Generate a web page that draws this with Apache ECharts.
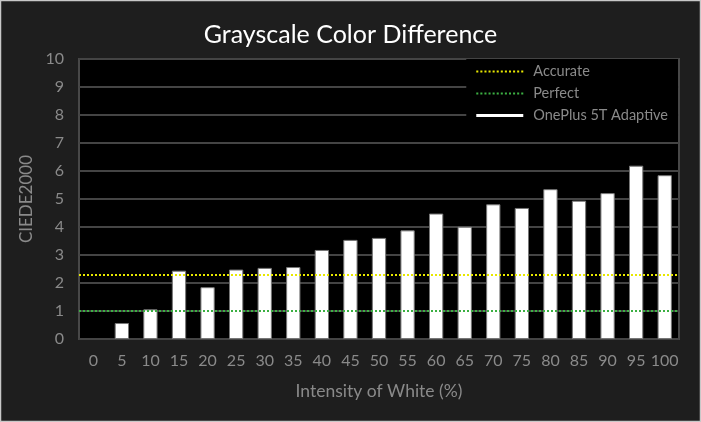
<!DOCTYPE html>
<html>
<head>
<meta charset="utf-8">
<script src="https://cdn.jsdelivr.net/npm/echarts@6/dist/echarts.min.js"></script>
<style>
  html, body { margin: 0; padding: 0; background: #1e1e1e; }
  #chart { width: 701px; height: 422px; }
</style>
</head>
<body>
<div id="chart"></div>
<script>
// 数据
var categories = ['0', '5', '10', '15', '20', '25', '30', '35', '40', '45', '50',
                  '55', '60', '65', '70', '75', '80', '85', '90', '95', '100'];
var oneplusValues = [0, 0.57, 1.06, 2.44, 1.85, 2.48, 2.54, 2.57, 3.18, 3.54, 3.61,
                     3.88, 4.48, 4.01, 4.81, 4.68, 5.35, 4.94, 5.21, 6.19, 5.85];
var accurateLevel = 2.3;
var perfectLevel = 1.0;

(function(){
    var myChart = echarts.init(document.getElementById('chart'));
    var labelColor = '#8a8a8a';
    var font = 'Lato, "Open Sans", sans-serif';

    // 图例里的点线图标
    var dots = '';
    for (var i = 0; i < 47; i += 4) {
        dots += 'M' + i + ',0h2v2h-2z';
    }
    var dotIcon = 'path://' + dots;

    var option = {
        backgroundColor: '#1e1e1e',
        animation: false,
        title: {
            text: 'Grayscale Color Difference',
            left: 'center',
            top: 17,
            textStyle: {
                color: '#ffffff',
                fontSize: 25,
                fontWeight: 'normal',
                fontFamily: font
            }
        },
        // 外框
        graphic: [{
            type: 'rect',
            shape: { x: 0.5, y: 0.5, width: 700, height: 421 },
            style: { fill: 'none', stroke: '#c8c8c8', lineWidth: 1.5 },
            silent: true
        }],
        legend: {
            orient: 'vertical',
            right: 23,
            top: 59,
            padding: [5, 10, 8, 10],
            itemGap: 7,
            itemWidth: 47,
            itemHeight: 14,
            backgroundColor: '#000',
            textStyle: { color: labelColor, fontSize: 14.5, fontFamily: font, padding: [0, 0, 0, 5] },
            data: [
                { name: 'Accurate', icon: dotIcon },
                { name: 'Perfect', icon: dotIcon },
                { name: 'OnePlus 5T Adaptive', icon: 'path://M0,0H47V3H0Z', itemStyle: { borderWidth: 0 } }
            ]
        },
        grid: {
            left: 79,
            right: 22,
            top: 59,
            bottom: 83,
            show: true,
            backgroundColor: '#000',
            borderColor: '#484848',
            borderWidth: 2
        },
        xAxis: {
            type: 'category',
            data: categories,
            name: 'Intensity of White (%)',
            nameLocation: 'middle',
            nameGap: 43,
            nameTextStyle: { color: labelColor, fontSize: 17.5, fontFamily: font },
            axisTick: { show: false },
            axisLine: { show: false },
            axisLabel: { color: labelColor, fontSize: 16, fontFamily: font, margin: 14, interval: 0 }
        },
        yAxis: {
            type: 'value',
            min: 0,
            max: 10,
            interval: 1,
            name: 'CIEDE2000',
            nameLocation: 'middle',
            nameGap: 44,
            nameTextStyle: { color: labelColor, fontSize: 17, fontFamily: font },
            axisLine: { show: false },
            axisTick: { show: false },
            axisLabel: { color: labelColor, fontSize: 16, fontFamily: font, margin: 15 },
            splitLine: { lineStyle: { color: '#444', width: 2 } }
        },
        series: [
            {
                name: 'Accurate',
                type: 'line',
                symbol: 'none',
                z: 1,
                data: [],
                lineStyle: { color: '#e8e800', type: 'dotted', width: 2 },
                itemStyle: { color: '#e8e800' },
                markLine: {
                    silent: true,
                    symbol: ['none', 'none'],
                    label: { show: false },
                    lineStyle: { color: '#e8e800', type: 'dotted', width: 2 },
                    data: [{ yAxis: accurateLevel }]
                }
            },
            {
                name: 'Perfect',
                type: 'line',
                symbol: 'none',
                z: 1,
                data: [],
                lineStyle: { color: '#3cb043', type: 'dotted', width: 2 },
                itemStyle: { color: '#3cb043' },
                markLine: {
                    silent: true,
                    symbol: ['none', 'none'],
                    label: { show: false },
                    lineStyle: { color: '#3cb043', type: 'dotted', width: 2 },
                    data: [{ yAxis: perfectLevel }]
                }
            },
            {
                name: 'OnePlus 5T Adaptive',
                type: 'bar',
                z: 3,
                barWidth: '50%',
                // 值为0时不画边框
                data: oneplusValues.map(function(v){
                    return v === 0 ? { value: v, itemStyle: { borderWidth: 0 } } : v;
                }),
                itemStyle: { color: '#ffffff', borderColor: '#777', borderWidth: 1 }
            }
        ]
    };
    myChart.setOption(option);
    window.addEventListener("resize", function(){
        myChart.resize();
    });
})();
</script>
</body>
</html>
